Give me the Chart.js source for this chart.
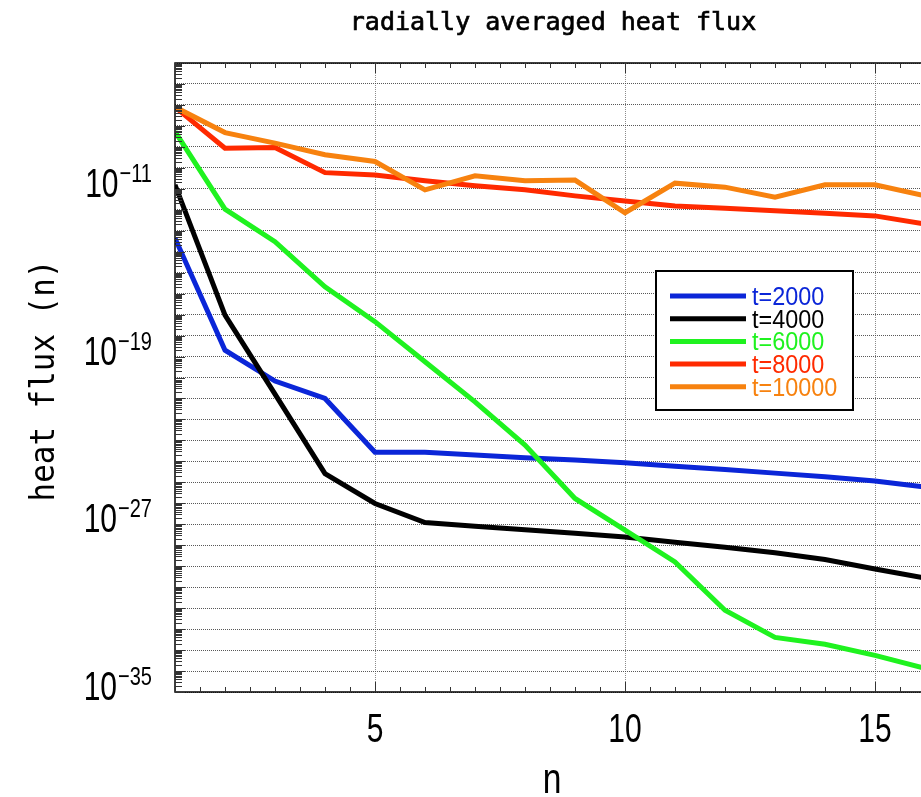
<!DOCTYPE html>
<html>
<head>
<meta charset="utf-8">
<script src="https://cdn.jsdelivr.net/npm/chart.js@4/dist/chart.umd.min.js"></script>
<style>
  html, body { margin: 0; padding: 0; background: #fff; overflow: hidden; }
  #wrap { width: 921px; height: 797px; overflow: hidden; position: relative; }
  canvas { position: absolute; left: 0; top: 0; }
</style>
</head>
<body>
<div id="wrap"><canvas id="fluxChart" width="930" height="797"></canvas></div>
<script>
// mode number n
var nValues = [1, 2, 3, 4, 5, 6, 7, 8, 9, 10, 11, 12, 13, 14, 15, 16];

// radially averaged heat flux
var flux2000 = [4.4e-14, 2.0e-19, 6.8e-21, 1.0e-21, 2.7e-24, 2.7e-24, 2.0e-24, 1.5e-24,
                1.15e-24, 8.5e-25, 5.9e-25, 4.1e-25, 2.75e-25, 1.86e-25, 1.17e-25, 5.9e-26];
var flux4000 = [1.55e-11, 9.5e-18, 1.6e-21, 2.6e-25, 9.8e-27, 1.2e-27, 8.1e-28, 5.5e-28,
                3.7e-28, 2.5e-28, 1.4e-28, 8.1e-29, 4.4e-29, 2.1e-29, 7.4e-30, 2.7e-30];
var flux6000 = [5.4e-9, 1.07e-12, 3.0e-14, 2.1e-16, 4.6e-18, 5.6e-20, 6.9e-22, 6.0e-24,
                1.7e-26, 5.2e-28, 1.6e-29, 7.9e-32, 4.0e-33, 1.9e-33, 5.6e-34, 1.35e-34];
var flux8000 = [7.9e-8, 8.7e-10, 9.3e-10, 5.9e-11, 4.6e-11, 2.4e-11, 1.4e-11, 8.9e-12,
                4.6e-12, 2.6e-12, 1.5e-12, 1.17e-12, 8.9e-13, 6.9e-13, 5.1e-13, 2.1e-13];
var flux10000 = [7.9e-8, 4.8e-9, 1.5e-9, 4.2e-10, 2.0e-10, 8.9e-12, 4.2e-11, 2.45e-11,
                 2.6e-11, 7.2e-13, 1.86e-11, 1.2e-11, 4.0e-12, 1.55e-11, 1.55e-11, 4.6e-12];

var seriesLabels = ["t=2000", "t=4000", "t=6000", "t=8000", "t=10000"];
var seriesData = [flux2000, flux4000, flux6000, flux8000, flux10000];

// tick labels
var xTickValues = [5, 10, 15];
var yLabelPowers = [-35, -27, -19, -11];

var colors = ["#0b26d8", "#000000", "#1ff21f", "#ff2a00", "#f7820f"];

var sansFont = '"Liberation Sans", Arial, sans-serif';
var monoFont = '"DejaVu Sans Mono", monospace';

function seg(ctx, x1, y1, x2, y2) {
  ctx.beginPath();
  ctx.moveTo(x1, y1);
  ctx.lineTo(x2, y2);
  ctx.stroke();
}

// text squeezed horizontally (the original uses a narrow gothic face)
function narrowText(ctx, txt, x, y, font, sx, align) {
  ctx.save();
  ctx.font = font;
  ctx.textAlign = align || "left";
  ctx.translate(x, y);
  ctx.scale(sx, 1);
  ctx.fillText(txt, 0, 0);
  ctx.restore();
}

function narrowWidth(ctx, txt, font, sx) {
  ctx.save();
  ctx.font = font;
  var w = ctx.measureText(txt).width * sx;
  ctx.restore();
  return w;
}

var decor = {
  id: "decor",
  afterDraw: function (chart) {
    var ctx = chart.ctx;
    var a = chart.chartArea;
    var xs = chart.scales.x;
    var ys = chart.scales.y;
    ctx.save();

    // frame
    ctx.strokeStyle = "#000";
    ctx.lineWidth = 1.5;
    ctx.beginPath();
    ctx.moveTo(a.right, a.top);
    ctx.lineTo(a.left, a.top);
    ctx.lineTo(a.left, a.bottom);
    ctx.lineTo(a.right, a.bottom);
    ctx.stroke();

    // x tick marks, top and bottom
    ctx.lineWidth = 1;
    ctx.strokeStyle = "#333";
    for (var v = 1; v <= 16; v += 0.5) {
      var px = Math.round(xs.getPixelForValue(v)) + 0.5;
      var len = v % 5 === 0 ? 10 : 5;
      seg(ctx, px, a.bottom, px, a.bottom - len);
      seg(ctx, px, a.top, px, a.top + len);
    }

    // y tick marks on left axis (log minor)
    for (var e = -35; e < -5; e++) {
      for (var m = 1; m <= 9; m++) {
        var py = Math.round(ys.getPixelForValue(m * Math.pow(10, e))) + 0.5;
        seg(ctx, a.left, py, a.left + (m === 1 ? 10 : 7), py);
      }
    }

    ctx.fillStyle = "#000";
    ctx.textBaseline = "alphabetic";

    // x tick labels
    xTickValues.forEach(function (t) {
      narrowText(ctx, String(t), xs.getPixelForValue(t), 742, "40px " + sansFont, 0.75, "center");
    });

    // y tick labels 10^p
    var baseFont = "40px " + sansFont;
    var supFont = "26px " + sansFont;
    yLabelPowers.forEach(function (p) {
      var py = ys.getPixelForValue(Math.pow(10, p));
      var sup = "\u2212" + Math.abs(p);
      var supW = narrowWidth(ctx, sup, supFont, 0.77);
      var baseW = narrowWidth(ctx, "10", baseFont, 0.75);
      var right = 152;
      narrowText(ctx, "10", right - supW - baseW - 1, py + 8, baseFont, 0.75, "left");
      narrowText(ctx, sup, right - supW, py - 7, supFont, 0.77, "left");
    });

    // titles
    ctx.textAlign = "center";
    ctx.font = "25px " + monoFont;
    ctx.lineWidth = 0.7;
    ctx.strokeStyle = "#000";
    ctx.fillText("radially averaged heat flux", (a.left + a.right) / 2 + 3, 30);
    ctx.strokeText("radially averaged heat flux", (a.left + a.right) / 2 + 3, 30);
    narrowText(ctx, "n", (a.left + a.right) / 2 + 2, 793, "42px " + sansFont, 0.8, "center");
    ctx.save();
    ctx.translate(54, (a.top + a.bottom) / 2 + 3);
    ctx.rotate(-Math.PI / 2);
    ctx.scale(1.03, 1.1);
    ctx.font = "30px " + monoFont;
    ctx.textAlign = "center";
    ctx.fillText("heat flux (n)", 0, 0);
    ctx.restore();

    // legend box
    var lx = 656, ly = 271, lw = 197, lh = 139;
    ctx.fillStyle = "#fff";
    ctx.fillRect(lx, ly, lw, lh);
    ctx.strokeStyle = "#000";
    ctx.lineWidth = 2;
    ctx.strokeRect(lx, ly, lw, lh);
    seriesLabels.forEach(function (lab, i) {
      var yy = 296 + i * 22.7;
      ctx.strokeStyle = colors[i];
      ctx.lineWidth = 5;
      seg(ctx, 670, yy, 746, yy);
      ctx.fillStyle = colors[i];
      narrowText(ctx, lab, 752, yy + 9, "26px " + sansFont, 0.9, "left");
    });

    ctx.restore();
  }
};

var datasets = seriesLabels.map(function (lab, i) {
  return {
    label: lab,
    data: seriesData[i].map(function (v, k) { return { x: nValues[k], y: v }; }),
    borderColor: colors[i],
    backgroundColor: colors[i],
    borderWidth: 5,
    pointRadius: 0,
    tension: 0,
    fill: false,
    order: seriesLabels.length - i
  };
});

var ctx = document.getElementById("fluxChart").getContext("2d");
var fluxChart = new Chart(ctx, {
  type: "line",
  data: { datasets: datasets },
  options: {
    responsive: false,
    animation: false,
    layout: { padding: { left: 175, top: 63, right: 5, bottom: 105 } },
    plugins: { legend: { display: false }, tooltip: { enabled: false } },
    scales: {
      x: {
        type: "linear",
        min: 1,
        max: 16,
        afterBuildTicks: function (s) {
          s.ticks = xTickValues.map(function (v) { return { value: v }; });
        },
        afterFit: function (s) { s.height = 0; },
        ticks: { display: false },
        grid: { color: "rgba(110,110,110,0.8)", lineWidth: 1, drawTicks: false },
        border: { display: false, dash: [1, 1] }
      },
      y: {
        type: "logarithmic",
        min: 1e-35,
        max: 1e-5,
        afterBuildTicks: function (s) {
          var t = [];
          for (var e = -35; e <= -5; e++) t.push({ value: Math.pow(10, e) });
          s.ticks = t;
        },
        afterFit: function (s) { s.width = 0; },
        ticks: { display: false },
        grid: { color: "rgba(70,70,70,0.9)", lineWidth: 1, drawTicks: false },
        border: { display: false, dash: [1, 1] }
      }
    }
  },
  plugins: [decor]
});
</script>
</body>
</html>
